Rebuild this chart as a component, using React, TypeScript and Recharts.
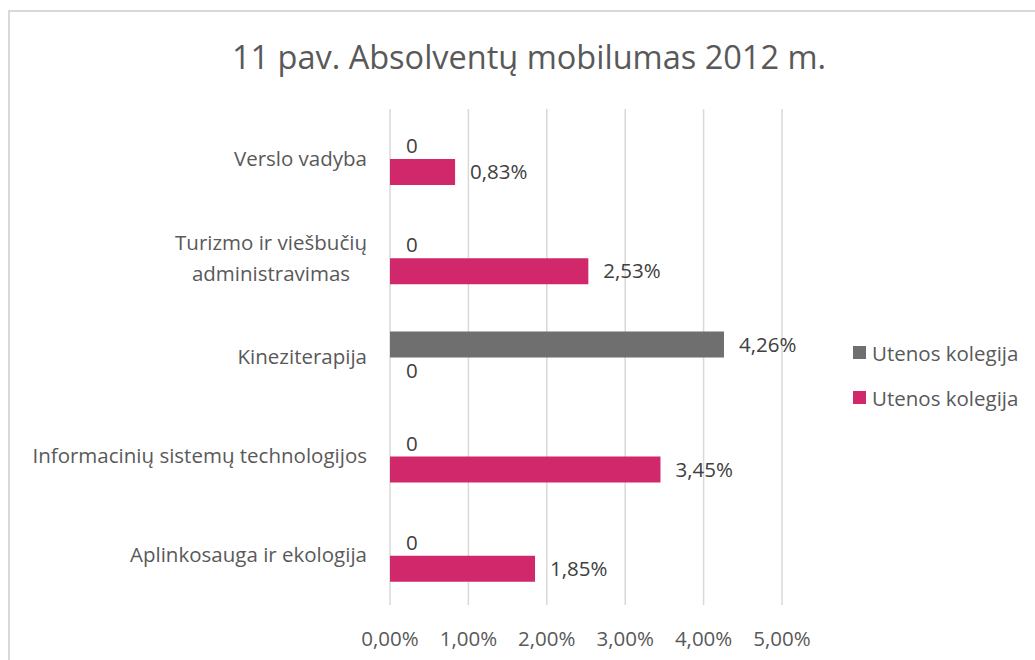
import { BarChart, Bar, XAxis, YAxis, CartesianGrid, LabelList, Cell } from 'recharts';

const categories = [
  'Verslo vadyba',
  'Turizmo ir viešbučių administravimas',
  'Kineziterapija',
  'Informacinių sistemų technologijos',
  'Aplinkosauga ir ekologija',
];

// two series, both named "Utenos kolegija" in the original
const greyValues = [0, 0, 4.26, 0, 0];
const pinkValues = [0.83, 2.53, 0, 3.45, 1.85];
const xTicks = [0, 1, 2, 3, 4, 5];
const seriesName = 'Utenos kolegija';

const GREY = '#6f6f6f';
const PINK = '#d1286b';
const FONT = '"Open Sans", sans-serif';
const FS = 20.5;

const data = categories.map((name, i) => ({ name, grey: greyValues[i], pink: pinkValues[i] }));

const pct = (v: number) => v.toFixed(2).replace('.', ',') + '%';
const labelFmt = (v: any) => (Number(v) === 0 ? '0' : pct(Number(v)));

// wrap the long Turizmo label onto two centred lines like Excel does
const wrapped: Record<string, string[]> = {
  'Turizmo ir viešbučių administravimas': ['Turizmo ir viešbučių', 'administravimas'],
};

function CategoryTick({ x, y, payload }: any) {
  const lines = wrapped[payload.value];
  if (lines) {
    return (
      <text x={x - 111} y={y} textAnchor="middle" fill="#595959" fontSize={FS} fontFamily={FONT}>
        {lines.map((l, i) => (
          <tspan key={i} x={x - 111} dy={i === 0 ? -8 : 31}>{l}</tspan>
        ))}
      </text>
    );
  }
  return (
    <text x={x - 15} y={y} dy={7} textAnchor="end" fill="#595959" fontSize={FS} fontFamily={FONT}>
      {payload.value}
    </text>
  );
}

const legendItems = [
  { name: seriesName, color: GREY },
  { name: seriesName, color: PINK },
];

export default function App() {
  return (
    <div style={{ position: 'fixed', left: 0, top: 0, width: 1035, height: 660, overflow: 'hidden', background: '#fff' }}>
      <div
        style={{
          position: 'absolute',
          left: 8,
          top: 10,
          width: 1100,
          height: 700,
          borderTop: '2px solid #d9d9d9',
          borderLeft: '2px solid #d9d9d9',
        }}
      />
      <div
        style={{
          position: 'absolute',
          left: 0,
          top: 34,
          width: 1058,
          textAlign: 'center',
          fontFamily: FONT,
          fontSize: 32.5,
          color: '#595959',
        }}
      >
        11 pav. Absolventų mobilumas 2012 m.
      </div>
      <div style={{ position: 'absolute', left: 0, top: 0 }}>
        <BarChart
          width={1035}
          height={660}
          data={data}
          layout="vertical"
          margin={{ top: 109, right: 253, bottom: 25, left: 0 }}
          barSize={26}
          barGap={0}
        >
          <CartesianGrid horizontal={false} stroke="#d9d9d9" strokeWidth={1.5} />
          <XAxis
            type="number"
            domain={[0, 5]}
            ticks={xTicks}
            interval={0}
            tickFormatter={pct}
            axisLine={false}
            tickLine={false}
            tick={{ fill: '#595959', fontSize: FS, fontFamily: FONT }}
            tickMargin={20}
            height={30}
          />
          <YAxis
            type="category"
            dataKey="name"
            width={390}
            axisLine={false}
            tickLine={false}
            tick={<CategoryTick />}
            interval={0}
          />
          <Bar dataKey="grey" name={seriesName} fill={GREY} minPointSize={1} isAnimationActive={false}>
            {greyValues.map((v, i) => (
              <Cell key={i} fill={v === 0 ? 'transparent' : GREY} />
            ))}
            <LabelList dataKey="grey" position="right" offset={15} formatter={labelFmt} fill="#404040" fontSize={FS} fontFamily={FONT} />
          </Bar>
          <Bar dataKey="pink" name={seriesName} fill={PINK} minPointSize={1} isAnimationActive={false}>
            {pinkValues.map((v, i) => (
              <Cell key={i} fill={v === 0 ? 'transparent' : PINK} />
            ))}
            <LabelList dataKey="pink" position="right" offset={15} formatter={labelFmt} fill="#404040" fontSize={FS} fontFamily={FONT} />
          </Bar>
        </BarChart>
      </div>
      <div style={{ position: 'absolute', left: 853, top: 330, fontFamily: FONT, fontSize: FS, color: '#595959' }}>
        {legendItems.map((it, i) => (
          <div key={i} style={{ display: 'flex', alignItems: 'center', height: 45 }}>
            <span style={{ display: 'inline-block', width: 13, height: 13, background: it.color, marginRight: 6 }} />
            <span>{it.name}</span>
          </div>
        ))}
      </div>
    </div>
  );
}
